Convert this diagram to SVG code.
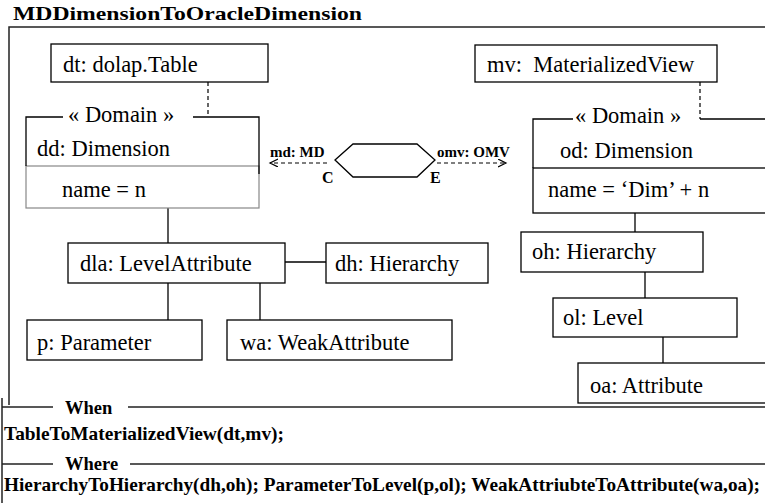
<svg xmlns="http://www.w3.org/2000/svg" width="765" height="503" viewBox="0 0 765 503">
<style>
.t{font-family:'Liberation Serif','Times New Roman',serif;font-size:22.5px;fill:#000}
.b{font-family:'Liberation Serif','Times New Roman',serif;font-weight:bold;fill:#000}
.box{fill:#fff;stroke:#000;stroke-width:1.3}
.comp{fill:#fff;stroke:#888;stroke-width:1.2}
.ln{stroke:#000;stroke-width:1.3;fill:none}
.dash{stroke:#000;stroke-width:1.2;stroke-dasharray:4 3;fill:none}
.frame{stroke:#222;stroke-width:1.5;fill:none}
</style>
<defs>
<marker id="arr" markerWidth="10" markerHeight="10" refX="8" refY="4" orient="auto" markerUnits="userSpaceOnUse">
<path d="M0,0 L8,4 L0,8" fill="none" stroke="#000" stroke-width="1.2"/>
</marker>
</defs>
<rect width="765" height="503" fill="#fff"/>
<text class="b" x="13" y="20" font-size="19.5" textLength="349" lengthAdjust="spacingAndGlyphs">MDDimensionToOracleDimension</text>
<g id="frame">
<path class="frame" d="M9,405 V27 H765"/>
<path class="frame" d="M2,398 V503"/>
<path class="frame" d="M2,407 H53 M128,407 H765"/>
<path class="frame" d="M2,464 H53 M130,464 H765"/>
</g>
<g id="connectors">
<path class="dash" d="M208,82 V117"/>
<path class="dash" d="M700,82 V119"/>
<path class="ln" d="M168,208 V243"/>
<path class="ln" d="M285,262 H326"/>
<path class="ln" d="M168,283 V320"/>
<path class="ln" d="M260,283 V320"/>
<path class="ln" d="M635,213 V232"/>
<path class="ln" d="M645,272 V298"/>
<path class="ln" d="M663,337 V363"/>
<path class="dash" d="M327,163 H270" marker-end="url(#arr)"/>
<path class="dash" d="M437,163 H506" marker-end="url(#arr)"/>
</g>
<g id="dt">
<rect class="box" x="51" y="44" width="217" height="38"/>
<text class="t" x="63" y="72">dt: dolap.Table</text>
</g>
<g id="dd">
<rect class="comp" x="26" y="166" width="233" height="42"/>
<path class="ln" d="M26,166 V117 H63 M193,117 H259 V174"/>
<text class="t" x="68" y="122">« Domain »</text>
<text class="t" x="37" y="156">dd: Dimension</text>
<text class="t" x="62" y="197">name = n</text>
</g>
<g id="rel">
<polygon class="ln" points="335,160 353,144 417,144 435,160 417,177 353,177"/>
<text class="b" x="270" y="157" font-size="15">md: MD</text>
<text class="b" x="322" y="183" font-size="16">C</text>
<text class="b" x="437" y="157" font-size="15">omv: OMV</text>
<text class="b" x="430" y="183" font-size="16">E</text>
</g>
<g id="dla">
<rect class="box" x="68" y="243" width="217" height="40"/>
<text class="t" x="80" y="271">dla: LevelAttribute</text>
</g>
<g id="dh">
<rect class="box" x="326" y="243" width="162" height="40"/>
<text class="t" x="335" y="271">dh: Hierarchy</text>
</g>
<g id="p">
<rect class="box" x="27" y="320" width="175" height="40"/>
<text class="t" x="37" y="350">p: Parameter</text>
</g>
<g id="wa">
<rect class="box" x="227" y="320" width="225" height="40"/>
<text class="t" x="240" y="350">wa: WeakAttribute</text>
</g>
<g id="mv">
<rect class="box" x="475" y="45" width="242" height="37"/>
<text class="t" x="487" y="72" xml:space="preserve">mv:  MaterializedView</text>
</g>
<g id="od">
<rect class="box" x="533" y="168" width="250" height="45"/>
<path class="ln" d="M533,168 V119 H573 M700,119 H765"/>
<text class="t" x="575" y="123">« Domain »</text>
<text class="t" x="560" y="158">od: Dimension</text>
<text class="t" x="548" y="197">name = ‘Dim’ + n</text>
</g>
<g id="oh">
<rect class="box" x="521" y="232" width="182" height="40"/>
<text class="t" x="532" y="259">oh: Hierarchy</text>
</g>
<g id="ol">
<rect class="box" x="553" y="298" width="184" height="39"/>
<text class="t" x="563" y="325">ol: Level</text>
</g>
<g id="oa">
<rect class="box" x="578" y="363" width="200" height="40"/>
<text class="t" x="590" y="393">oa: Attribute</text>
</g>
<g id="clauses">
<text class="b" x="65" y="414" font-size="18.5">When</text>
<text class="b" x="4" y="440" font-size="19.5" textLength="280" lengthAdjust="spacingAndGlyphs">TableToMaterializedView(dt,mv);</text>
<text class="b" x="65" y="470" font-size="18.5">Where</text>
<text class="b" x="4" y="491" font-size="19" textLength="756" lengthAdjust="spacingAndGlyphs">HierarchyToHierarchy(dh,oh); ParameterToLevel(p,ol); WeakAttriubteToAttribute(wa,oa);</text>
</g>
</svg>
